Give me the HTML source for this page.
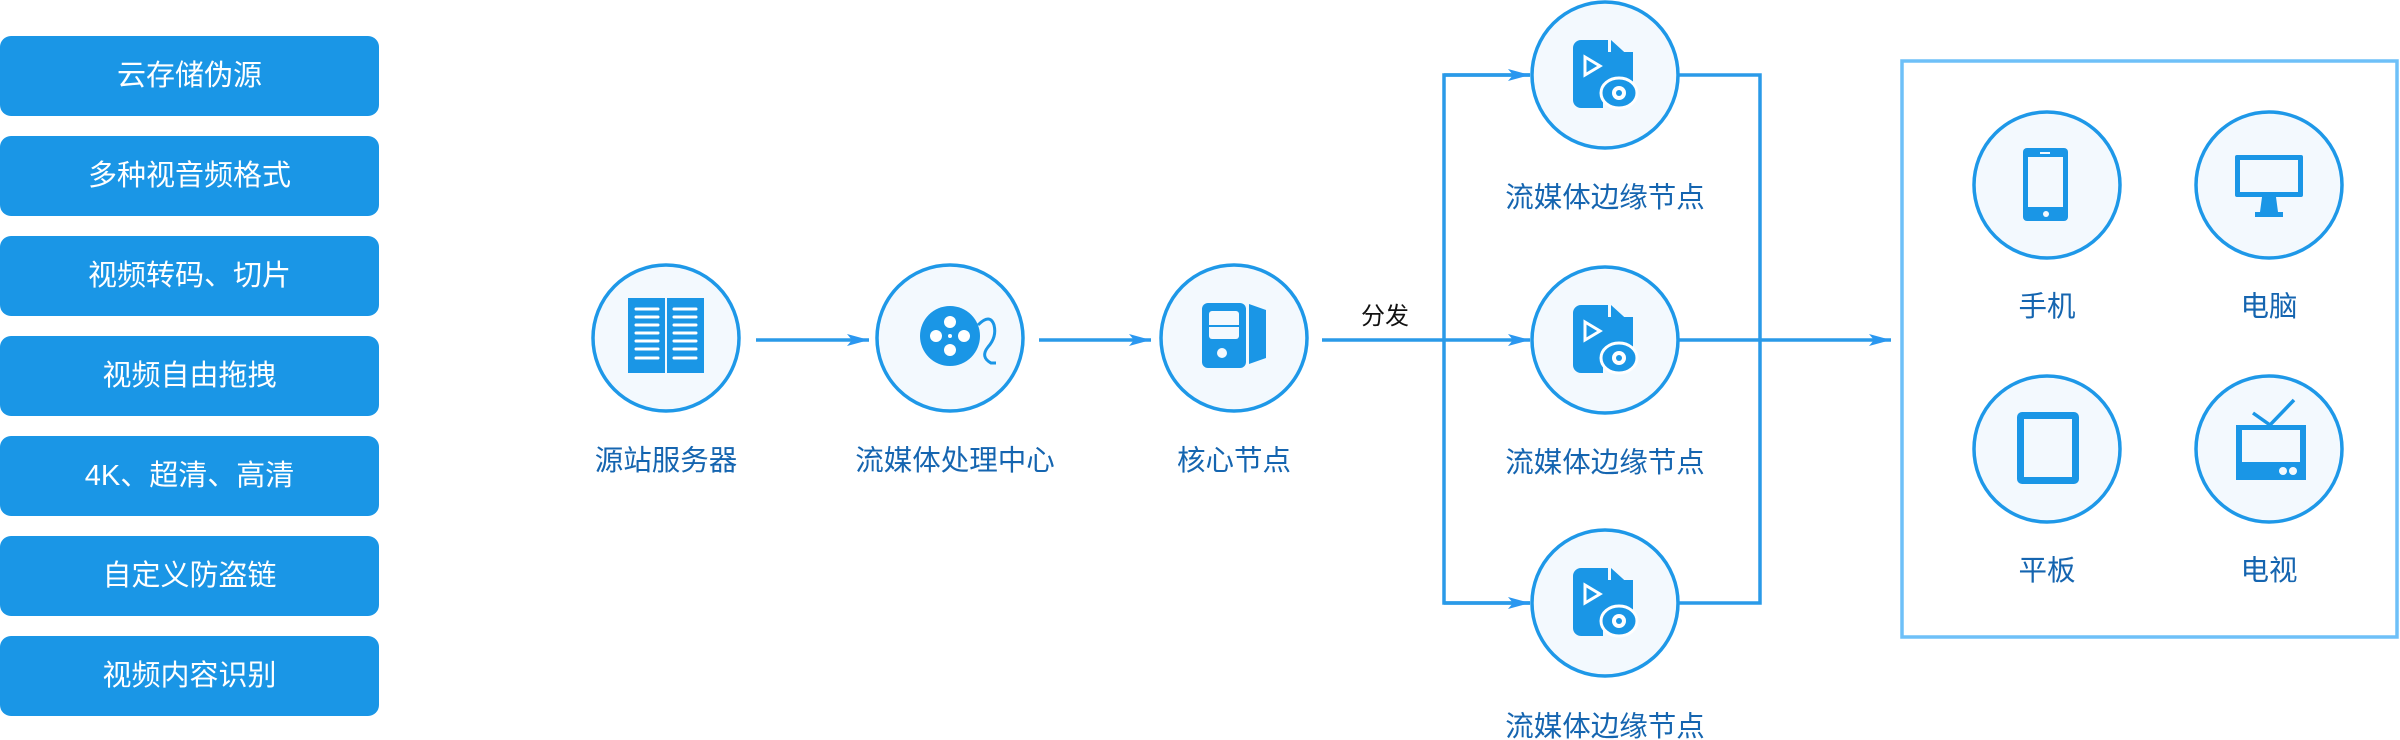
<!DOCTYPE html>
<html><head><meta charset="utf-8"><style>
html,body{margin:0;padding:0;background:#fff;}
body{width:2400px;height:740px;overflow:hidden;position:relative;font-family:"Liberation Sans","Noto Sans CJK SC",sans-serif;}
.b{position:absolute;left:0;width:379px;height:80px;background:#1a96e6;border-radius:11px;color:#fff;font-size:29px;line-height:80px;text-align:center;}
</style></head><body>
<div class="b" style="top:36px">云存储伪源</div>
<div class="b" style="top:136px">多种视音频格式</div>
<div class="b" style="top:236px">视频转码、切片</div>
<div class="b" style="top:336px">视频自由拖拽</div>
<div class="b" style="top:436px">4K、超清、高清</div>
<div class="b" style="top:536px">自定义防盗链</div>
<div class="b" style="top:636px">视频内容识别</div>
<svg width="2400" height="740" style="position:absolute;left:0;top:0" font-family="Liberation Sans, Noto Sans CJK SC, sans-serif">
<defs>
<marker id="ah" markerWidth="22" markerHeight="12" refX="22" refY="6" orient="auto" markerUnits="userSpaceOnUse"><path d="M0,0 L22,6 L0,12 L5,6 Z" fill="#2a97f0"/></marker>
</defs>
<g stroke="#2a9ae8" stroke-width="3.5" fill="none">
<line x1="756" y1="340" x2="869" y2="340" marker-end="url(#ah)"/>
<line x1="1039" y1="340" x2="1151" y2="340" marker-end="url(#ah)"/>
<line x1="1322" y1="340" x2="1530" y2="340" marker-end="url(#ah)"/>
<polyline points="1530,75 1444,75 1444,603 1530,603"/>
<line x1="1444" y1="75" x2="1530" y2="75" marker-end="url(#ah)"/>
<line x1="1444" y1="603" x2="1530" y2="603" marker-end="url(#ah)"/>
<polyline points="1679,75 1760,75 1760,603 1679,603"/>
<line x1="1679" y1="340" x2="1891" y2="340" marker-end="url(#ah)"/>
</g>
<rect x="1902" y="61" width="495" height="576" fill="none" stroke="#6ec0f8" stroke-width="3.5"/>
<g fill="#f3f9fe" stroke="#1e98e8" stroke-width="3.5">
<circle cx="666" cy="338" r="73"/>
<circle cx="950" cy="338" r="73"/>
<circle cx="1234" cy="338" r="73"/>
<circle cx="1605" cy="75" r="73"/>
<circle cx="1605" cy="340" r="73"/>
<circle cx="1605" cy="603" r="73"/>
<circle cx="2047" cy="185" r="73"/>
<circle cx="2269" cy="185" r="73"/>
<circle cx="2047" cy="449" r="73"/>
<circle cx="2269" cy="449" r="73"/>
</g>
<g fill="#1a96e6">
<rect x="628" y="298" width="37" height="75"/><rect x="667" y="298" width="37" height="75"/>
<g stroke="#fff" stroke-width="3" stroke-linecap="round">
<path d="M636 309h22M636 317h22M636 325h22M636 333h22M636 341h22M636 349h22M636 358h22M674 309h22M674 317h22M674 325h22M674 333h22M674 341h22M674 349h22M674 358h22"/>
</g>
<circle cx="950" cy="336" r="30"/>
<g fill="#fff"><circle cx="950" cy="322" r="6"/><circle cx="950" cy="350" r="6"/><circle cx="936" cy="336" r="6"/><circle cx="964" cy="336" r="6"/><circle cx="950" cy="336" r="2"/></g>
<path d="M978 325 q12 -12 16 0 q3 12 -6 22 q-8 10 3 16 h5" fill="none" stroke="#1a96e6" stroke-width="3"/>
<rect x="1202" y="303" width="44" height="65" rx="6"/>
<rect x="1209" y="311" width="30" height="28" rx="3" fill="#f3f9fe"/>
<rect x="1209" y="325" width="30" height="2" fill="#1a96e6"/>
<circle cx="1222" cy="353" r="5" fill="#f3f9fe"/>
<path d="M1249 304 l17 6 v48 l-17 6 z"/>
</g>
<g id="ei" fill="#1a96e6">
<path d="M1581 40 h27 v12 h25 v34 h-30 v22 h-22 a8 8 0 0 1 -8 -8 v-52 a8 8 0 0 1 8 -8z"/>
<path d="M1611 40 l22 20 h-22z"/>
<path d="M1585 57 l15 9 l-15 9z" fill="none" stroke="#fff" stroke-width="3"/>
<ellipse cx="1619" cy="93" rx="18" ry="15" fill="#1a96e6" stroke="#fff" stroke-width="3"/>
<circle cx="1619" cy="93" r="7" fill="#fff"/>
<circle cx="1619" cy="93" r="3" fill="#1a96e6"/>
</g>
<use href="#ei" y="265"/>
<use href="#ei" y="528"/>
<rect x="2023" y="148" width="45" height="73" rx="4" fill="#1a96e6"/>
<rect x="2028" y="157" width="35" height="50" fill="#f3f9fe"/>
<circle cx="2046" cy="214" r="3" fill="#f3f9fe"/>
<rect x="2040" y="152" width="10" height="2" fill="#f3f9fe"/>
<rect x="2235" y="155" width="68" height="42" rx="2" fill="#1a96e6"/>
<rect x="2240" y="160" width="58" height="32" fill="#f3f9fe"/>
<path d="M2262 197h14l2 15h-18z M2255 212h28v5h-28z" fill="#1a96e6"/>
<rect x="2017" y="412" width="62" height="72" rx="5" fill="#1a96e6"/>
<rect x="2024" y="419" width="48" height="58" fill="#f3f9fe"/>
<rect x="2236" y="425" width="70" height="55" fill="#1a96e6"/>
<rect x="2242" y="430" width="58" height="32" fill="#f3f9fe"/>
<circle cx="2283" cy="471" r="4" fill="#f3f9fe"/><circle cx="2293" cy="471" r="4" fill="#f3f9fe"/>
<path d="M2253 413 l17 12 l24 -25" fill="none" stroke="#1a96e6" stroke-width="3.5"/>
<g fill="#1565b0" font-size="28.5" text-anchor="middle">
<text x="666" y="470">源站服务器</text>
<text x="955" y="470">流媒体处理中心</text>
<text x="1234" y="470">核心节点</text>
<text x="1605" y="207">流媒体边缘节点</text>
<text x="1605" y="472">流媒体边缘节点</text>
<text x="1605" y="736">流媒体边缘节点</text>
<text x="2047" y="316">手机</text>
<text x="2269" y="316">电脑</text>
<text x="2047" y="580">平板</text>
<text x="2269" y="580">电视</text>
</g>
<text x="1385" y="324" font-size="24" fill="#111" text-anchor="middle">分发</text>
</svg>
</body></html>
